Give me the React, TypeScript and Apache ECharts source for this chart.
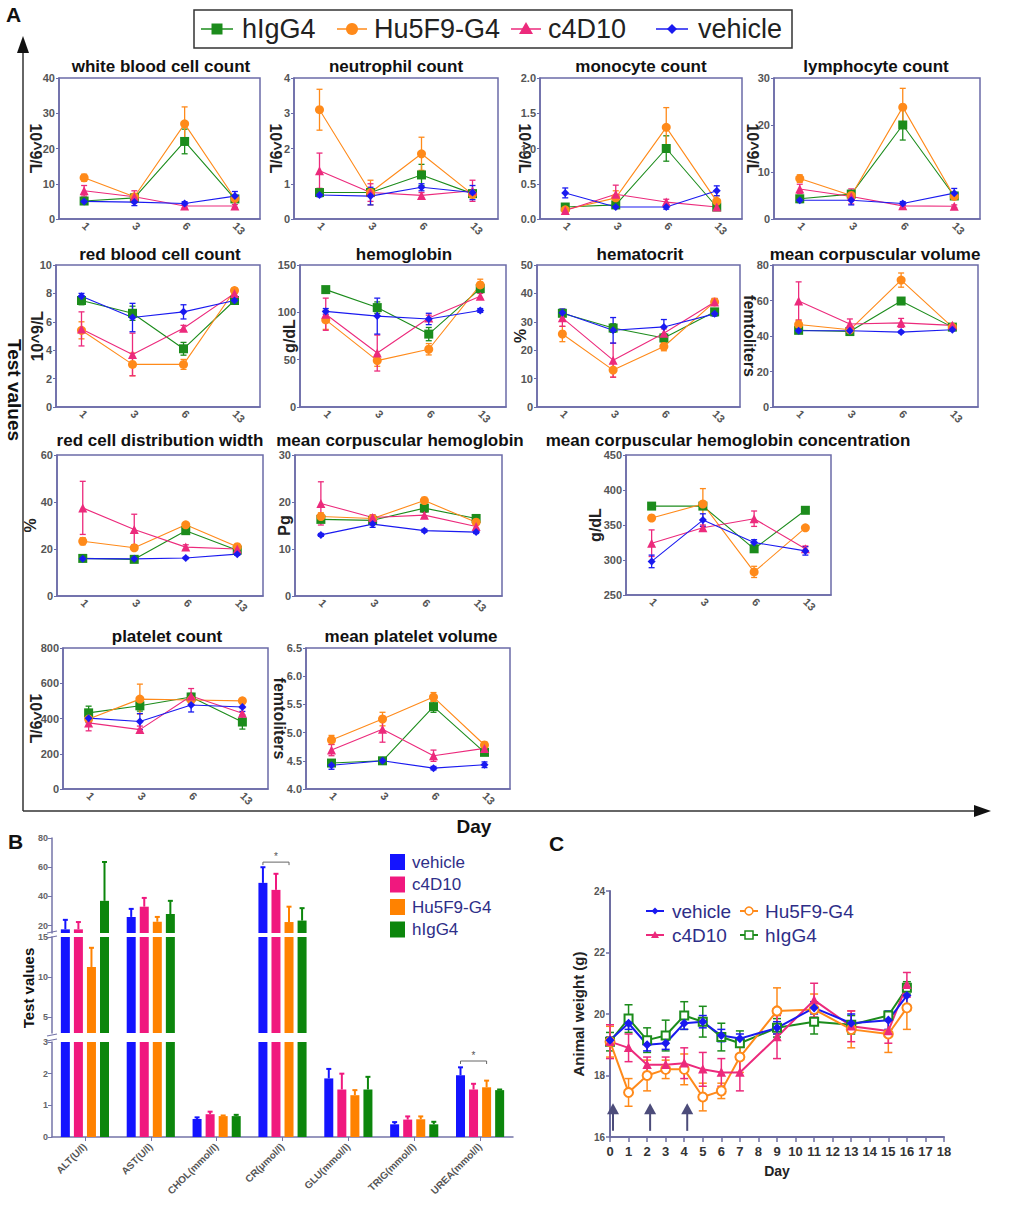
import React, { useEffect, useRef } from 'react';
import * as echarts from 'echarts';

const FONT = '"Liberation Sans", Arial, Helvetica, sans-serif';

// ---------------- Panel A data (order: hIgG4, Hu5F9-G4, c4D10, vehicle) ----------------
const days = ['1', '3', '6', '13'];
const groupNames = ['hIgG4', 'Hu5F9-G4', 'c4D10', 'vehicle'];

const wbcMean = [[5.1, 6.0, 22.0, 5.7], [11.7, 6.3, 27.0, 5.8], [8.0, 6.3, 3.7, 3.7], [5.0, 4.8, 4.4, 6.5]];
const wbcErr = [[0.5, 0.5, 3.5, 0.8], [1.0, 0.8, 4.8, 0.6], [1.5, 1.7, 0.6, 0.4], [0.6, 1.0, 0.5, 1.3]];
const neuMean = [[0.75, 0.75, 1.25, 0.72], [3.1, 0.75, 1.85, 0.7], [1.37, 0.75, 0.67, 0.8], [0.68, 0.65, 0.9, 0.75]];
const neuErr = [[0.08, 0.1, 0.3, 0.1], [0.58, 0.35, 0.47, 0.1], [0.5, 0.25, 0.08, 0.3], [0.05, 0.25, 0.1, 0.2]];
const monoMean = [[0.17, 0.2, 1.0, 0.17], [0.13, 0.3, 1.3, 0.25], [0.12, 0.35, 0.24, 0.17], [0.37, 0.17, 0.17, 0.4]];
const monoErr = [[0.03, 0.03, 0.18, 0.03], [0.03, 0.1, 0.28, 0.08], [0.03, 0.13, 0.04, 0.03], [0.07, 0.02, 0.03, 0.07]];
const lymMean = [[4.3, 5.3, 20.0, 4.9], [8.6, 5.0, 23.8, 4.8], [6.4, 4.8, 2.8, 2.7], [4.0, 4.0, 3.3, 5.5]];
const lymErr = [[0.5, 0.6, 3.2, 0.6], [0.8, 0.8, 4.0, 0.6], [1.0, 1.6, 0.4, 0.3], [0.5, 1.0, 0.4, 1.0]];
const rbcMean = [[7.5, 6.6, 4.1, 7.5], [5.4, 3.0, 3.0, 8.2], [5.5, 3.7, 5.55, 8.0], [7.8, 6.3, 6.7, 7.5]];
const rbcErr = [[0.3, 0.5, 0.45, 0.2], [0.6, 0.8, 0.35, 0.2], [1.2, 1.5, 0.2, 0.3], [0.2, 1.0, 0.5, 0.1]];
const hgbMean = [[124, 105, 77, 125], [92, 49, 61, 129], [98, 57, 94, 117], [101, 96, 93, 102]];
const hgbErr = [[3, 6, 7, 4], [10, 6, 6, 6], [17, 19, 3, 3], [3, 19, 6, 2]];
const hctMean = [[33, 27.8, 24.3, 33.5], [25.7, 13, 21.3, 37], [31.4, 16.5, 26, 37], [33.2, 27, 28.2, 32.8]];
const hctErr = [[1, 1.5, 1.5, 1], [2.7, 2.5, 1.5, 1.2], [3, 6, 1.5, 1.2], [1.3, 4.5, 2.6, 0.8]];
const mcvMean = [[43.2, 42.5, 59.7, 45], [46.5, 43.5, 71.5, 45], [59.7, 46.8, 47.4, 46], [43, 43, 42.2, 43.5]];
const mcvErr = [[0.8, 0.8, 1.2, 0.8], [2.5, 1, 4, 1], [10.8, 2.8, 2.5, 1], [0.5, 0.5, 0.5, 0.5]];
const rdwMean = [[16, 15.6, 27.8, 19.5], [23.3, 20.5, 30.3, 21], [37.5, 28.3, 20.8, 20], [15.9, 15.8, 16.2, 17.8]];
const rdwErr = [[0.5, 0.5, 1, 0.5], [1.5, 1, 1, 0.8], [11.3, 6.5, 1, 0.8], [0.3, 0.3, 0.3, 0.5]];
const mchMean = [[16.3, 16.1, 18.7, 16.5], [16.9, 16.5, 20.3, 15.7], [19.7, 16.7, 17.2, 14.8], [13, 15.3, 13.9, 13.6]];
const mchErr = [[0.4, 0.4, 0.6, 0.4], [0.8, 0.5, 0.7, 0.5], [4.6, 0.6, 0.6, 0.4], [0.3, 0.7, 0.3, 0.3]];
const mchcMean = [[377, 377, 316, 371], [360, 380, 283, 346], [324, 346, 359, 316], [298, 357, 325, 313]];
const mchcErr = [[3, 3, 3, 3], [3, 22, 8, 3], [19, 4, 11, 4], [9, 9, 4, 6]];
const pltMean = [[432, 472, 522, 380], [397, 510, 505, 500], [375, 337, 528, 430], [402, 383, 477, 465]];
const pltErr = [[38, 30, 20, 40], [20, 85, 25, 15], [45, 20, 42, 30], [25, 45, 40, 25]];
const mpvMean = [[4.46, 4.5, 5.46, 4.65], [4.87, 5.24, 5.63, 4.78], [4.69, 5.06, 4.59, 4.72], [4.42, 4.5, 4.37, 4.43]];
const mpvErr = [[0.03, 0.03, 0.1, 0.03], [0.08, 0.12, 0.08, 0.05], [0.1, 0.23, 0.1, 0.05], [0.07, 0.03, 0.03, 0.05]];

// ---------------- Panel B data (order: vehicle, c4D10, Hu5F9-G4, hIgG4) ----------------
const bCategories = ['ALT(U/l)', 'AST(U/l)', 'CHOL(mmol/l)', 'CR(μmol/l)', 'GLU(mmol/l)', 'TRIG(mmol/l)', 'UREA(mmol/l)'];
const bGroups = ['vehicle', 'c4D10', 'Hu5F9-G4', 'hIgG4'];
const bVehicle = [17.5, 26, 0.57, 49.3, 1.85, 0.4, 1.95];
const bVehicleErr = [6.5, 5.5, 0.05, 10.7, 0.3, 0.07, 0.25];
const bC4D10 = [17.5, 33, 0.72, 44.5, 1.5, 0.55, 1.5];
const bC4D10Err = [5, 6, 0.08, 11, 0.5, 0.1, 0.18];
const bHu5F9 = [11.25, 22.7, 0.66, 22.5, 1.32, 0.56, 1.57];
const bHu5F9Err = [2.4, 3.3, 0.02, 10.5, 0.16, 0.09, 0.21];
const bHIgG4 = [37, 28, 0.66, 23.5, 1.5, 0.4, 1.48];
const bHIgG4Err = [26.6, 9, 0.04, 8.5, 0.4, 0.08, 0.02];
const bUpperTicks = [20, 40, 60, 80];
const bMiddleTicks = [5, 10, 15];
const bLowerTicks = [0, 1, 2, 3];
// significance: [category index, bracket height]
const bSignif = [[3, 63.5], [6, 2.4]];

// ---------------- Panel C data (order: vehicle, c4D10, Hu5F9-G4, hIgG4) ----------------
const weightDays = [0, 1, 2, 3, 4, 5, 6, 7, 9, 11, 13, 15, 16];
const wVehicle = [19.15, 19.7, 19.0, 19.05, 19.7, 19.75, 19.3, 19.2, 19.55, 20.2, 19.7, 19.8, 20.6];
const wVehicleErr = [0.1, 0.2, 0.2, 0.2, 0.2, 0.2, 0.2, 0.15, 0.2, 0.2, 0.3, 0.3, 0.3];
const wC4D10 = [19.1, 18.9, 18.35, 18.35, 18.4, 18.2, 18.1, 18.1, 19.25, 20.45, 19.6, 19.45, 20.95];
const wC4D10Err = [0.55, 0.45, 0.25, 0.25, 0.5, 0.55, 0.45, 0.6, 0.7, 0.55, 0.5, 0.4, 0.4];
const wHu5F9 = [19.1, 17.45, 18.0, 18.2, 18.2, 17.3, 17.5, 18.6, 20.1, 20.15, 19.5, 19.35, 20.2];
const wHu5F9Err = [0.5, 0.45, 0.5, 0.3, 0.5, 0.45, 0.25, 0.5, 0.75, 0.5, 0.6, 0.6, 0.7];
const wHIgG4 = [19.1, 19.85, 19.15, 19.3, 19.95, 19.75, 19.25, 19.05, 19.55, 19.75, 19.65, 19.95, 20.85];
const wHIgG4Err = [0.3, 0.45, 0.4, 0.5, 0.45, 0.5, 0.45, 0.4, 0.3, 0.4, 0.3, 0.1, 0.2];
const dosingDays = [0, 2, 4];

// ---------------- styling ----------------
const GREEN = '#1c8c1c';
const ORANGE = '#ff8a1a';
const PINK = '#ec2a7c';
const BLUE = '#1a1af0';
const aColors = [GREEN, ORANGE, PINK, BLUE];
const aSymbols = ['rect', 'circle', 'triangle', 'diamond'];
const aSymbolSizes = [9, 9, 9, 8];
const AX = '#6b6ba8';
const NAVY = '#2e2e88';

const panelsA = [
  { title: 'white blood cell count', unit: '10^9/L', min: 0, max: 40, interval: 10, dec: 0, mean: wbcMean, err: wbcErr },
  { title: 'neutrophil count', unit: '10^9/L', min: 0, max: 4, interval: 1, dec: 0, mean: neuMean, err: neuErr },
  { title: 'monocyte count', unit: '10^9/L', min: 0, max: 2, interval: 0.5, dec: 1, mean: monoMean, err: monoErr },
  { title: 'lymphocyte count', unit: '10^9/L', min: 0, max: 30, interval: 10, dec: 0, mean: lymMean, err: lymErr },
  { title: 'red blood cell count', unit: '10^9/L', min: 0, max: 10, interval: 2, dec: 0, mean: rbcMean, err: rbcErr },
  { title: 'hemoglobin', unit: 'g/dL', min: 0, max: 150, interval: 50, dec: 0, mean: hgbMean, err: hgbErr },
  { title: 'hematocrit', unit: '%', min: 0, max: 50, interval: 10, dec: 0, mean: hctMean, err: hctErr },
  { title: 'mean corpuscular volume', unit: 'femtoliters', min: 0, max: 80, interval: 20, dec: 0, mean: mcvMean, err: mcvErr },
  { title: 'red cell distribution width', unit: '%', min: 0, max: 60, interval: 20, dec: 0, mean: rdwMean, err: rdwErr },
  { title: 'mean corpuscular hemoglobin', unit: 'Pg', min: 0, max: 30, interval: 10, dec: 0, mean: mchMean, err: mchErr },
  { title: 'mean corpuscular hemoglobin concentration', unit: 'g/dL', min: 250, max: 450, interval: 50, dec: 0, mean: mchcMean, err: mchcErr },
  { title: 'platelet count', unit: '10^9/L', min: 0, max: 800, interval: 200, dec: 0, mean: pltMean, err: pltErr },
  { title: 'mean platelet volume', unit: 'femtoliters', min: 4.0, max: 6.5, interval: 0.5, dec: 1, mean: mpvMean, err: mpvErr },
];

const layoutA = [
  { left: 59, top: 78, width: 201, height: 141, tx: 161, ty: 66, gap: 16, rot: -90 },
  { left: 294, top: 78, width: 204, height: 141, tx: 396, ty: 66, gap: 11, rot: -90 },
  { left: 540, top: 78, width: 202, height: 141, tx: 641, ty: 66, gap: 8, rot: -90 },
  { left: 774, top: 78, width: 206, height: 141, tx: 876, ty: 66, gap: 14, rot: -90 },
  { left: 56, top: 265, width: 204, height: 142, tx: 160, ty: 254, gap: 11, rot: 90 },
  { left: 300, top: 265, width: 206, height: 142, tx: 404, ty: 254, gap: 3, rot: 90 },
  { left: 537, top: 265, width: 203, height: 142, tx: 640, ty: 254, gap: 9, rot: 90 },
  { left: 773, top: 265, width: 205, height: 142, tx: 875, ty: 254, gap: 16, rot: -90 },
  { left: 57, top: 455, width: 206, height: 141, tx: 160, ty: 440, gap: 19, rot: 90 },
  { left: 295, top: 455, width: 207, height: 141, tx: 400, ty: 440, gap: 3, rot: 90 },
  { left: 626, top: 455, width: 205, height: 140, tx: 728, ty: 440, gap: 23, rot: 90 },
  { left: 63, top: 648, width: 205, height: 141, tx: 167, ty: 636, gap: 20, rot: -90 },
  { left: 306, top: 648, width: 204, height: 141, tx: 411, ty: 636, gap: 19, rot: -90 },
];

function errRender(color: string, capHalf: number, lw: number) {
  return (params: any, api: any) => {
    const x = api.value(0);
    const m = api.value(1);
    const e = api.value(2);
    const p1 = api.coord([x, m + e]);
    const p2 = api.coord([x, m - e]);
    const st = { stroke: color, lineWidth: lw, fill: null };
    return {
      type: 'group',
      children: [
        { type: 'line', shape: { x1: p1[0], y1: p1[1], x2: p2[0], y2: p2[1] }, style: st },
        { type: 'line', shape: { x1: p1[0] - capHalf, y1: p1[1], x2: p1[0] + capHalf, y2: p1[1] }, style: st },
        { type: 'line', shape: { x1: p2[0] - capHalf, y1: p2[1], x2: p2[0] + capHalf, y2: p2[1] }, style: st },
      ],
    };
  };
}

const BAR_W = 9;
const BAR_GAP = 0.45;
function barOffset(s: number) {
  return (s - 1.5) * BAR_W * (1 + BAR_GAP);
}

function barErrRender(color: string, s: number) {
  return (params: any, api: any) => {
    const cat = api.value(0);
    const m = api.value(1);
    const e = api.value(2);
    const cs = params.coordSys;
    const p1 = api.coord([cat, m]);
    const p2 = api.coord([cat, m + e]);
    const x = p1[0] + barOffset(s);
    const yTop = cs.y;
    const yBot = cs.y + cs.height;
    const y1 = Math.min(Math.max(p1[1], yTop), yBot);
    const y2 = Math.min(Math.max(p2[1], yTop), yBot);
    const st = { stroke: color, lineWidth: 2, fill: null };
    const children: any[] = [];
    if (Math.abs(y1 - y2) > 0.1) children.push({ type: 'line', shape: { x1: x, y1, x2: x, y2 }, style: st });
    if (p2[1] >= yTop && p2[1] <= yBot) {
      children.push({ type: 'line', shape: { x1: x - 2.5, y1: p2[1], x2: x + 2.5, y2: p2[1] }, style: st });
    }
    return { type: 'group', children };
  };
}

function buildOption() {
  const grid: any[] = [];
  const xAxis: any[] = [];
  const yAxis: any[] = [];
  const series: any[] = [];
  const graphic: any[] = [];

  const labelStyle = { color: '#555', fontWeight: 'bold', fontFamily: FONT };

  // ---------- Panel A ----------
  panelsA.forEach((p, i) => {
    const L = layoutA[i];
    const gi = grid.length;
    grid.push({ left: L.left, top: L.top, width: L.width, height: L.height, show: true, borderColor: AX, borderWidth: 1.5, backgroundColor: 'rgba(0,0,0,0)' });
    xAxis.push({
      type: 'category', gridIndex: gi, data: days, boundaryGap: true,
      axisLine: { onZero: false, lineStyle: { color: AX, width: 1.5 } },
      axisTick: { alignWithLabel: true, length: 3, lineStyle: { color: AX } },
      axisLabel: { ...labelStyle, rotate: -45, fontSize: 11, margin: 5, interval: 0 },
      splitLine: { show: false },
    });
    yAxis.push({
      type: 'value', gridIndex: gi, min: p.min, max: p.max, interval: p.interval,
      axisLine: { show: true, lineStyle: { color: AX, width: 1.5 } },
      axisTick: { show: true, length: 3, lineStyle: { color: AX } },
      axisLabel: { ...labelStyle, fontSize: 11, margin: 4, formatter: (v: number) => v.toFixed(p.dec) },
      splitLine: { show: false },
      name: p.unit, nameLocation: 'middle', nameGap: L.gap, nameRotate: L.rot, nameMoveOverlap: false,
      nameTextStyle: { fontSize: 16, fontWeight: 'bold', color: '#222', fontFamily: FONT },
    });
    graphic.push({
      type: 'text', x: L.tx, y: L.ty,
      style: { text: p.title, fontSize: 17, fontWeight: 'bold', fontFamily: FONT, fill: '#111', align: 'center', verticalAlign: 'middle', textAlign: 'center', textVerticalAlign: 'middle' },
    });
    for (let s = 0; s < 4; s++) {
      series.push({
        type: 'custom', name: groupNames[s], xAxisIndex: gi, yAxisIndex: gi, z: 1,
        renderItem: errRender(aColors[s], 3, 1.3),
        data: p.mean[s].map((m, k) => [k, m, p.err[s][k]]),
        silent: true,
      });
    }
    for (let s = 0; s < 4; s++) {
      series.push({
        type: 'line', name: groupNames[s], xAxisIndex: gi, yAxisIndex: gi, z: 3,
        data: p.mean[s], symbol: aSymbols[s], symbolSize: aSymbolSizes[s],
        lineStyle: { color: aColors[s], width: 1.1 }, itemStyle: { color: aColors[s] },
      });
    }
  });

  // A frame arrows and labels
  graphic.push(
    { type: 'line', shape: { x1: 23, y1: 811, x2: 23, y2: 48 }, style: { stroke: '#333', lineWidth: 1.5 } },
    { type: 'polygon', shape: { points: [[23, 36], [17, 53], [29, 53]] }, style: { fill: '#111' } },
    { type: 'line', shape: { x1: 23, y1: 811, x2: 976, y2: 811 }, style: { stroke: '#333', lineWidth: 1.5 } },
    { type: 'polygon', shape: { points: [[991, 811], [974, 805], [974, 817]] }, style: { fill: '#111' } },
    { type: 'text', x: 6, y: 4, style: { text: 'A', fontSize: 21, fontWeight: 'bold', fontFamily: FONT, fill: '#111' } },
    { type: 'text', x: 474, y: 826, style: { text: 'Day', fontSize: 19, fontWeight: 'bold', fontFamily: FONT, fill: '#111', align: 'center', verticalAlign: 'middle', textAlign: 'center', textVerticalAlign: 'middle' } },
    { type: 'text', x: 14, y: 390, rotation: -Math.PI / 2, style: { text: 'Test values', fontSize: 19, fontWeight: 'bold', fontFamily: FONT, fill: '#111', align: 'center', verticalAlign: 'middle', textAlign: 'center', textVerticalAlign: 'middle' } },
  );

  // A legend
  graphic.push({ type: 'rect', shape: { x: 194, y: 10, width: 598, height: 38 }, style: { fill: '#fff', stroke: '#333', lineWidth: 1.5 } });
  const legA = [
    { x1: 201, x2: 233, mx: 217, tx: 242 },
    { x1: 337, x2: 367, mx: 352, tx: 374 },
    { x1: 511, x2: 541, mx: 526, tx: 548 },
    { x1: 656, x2: 688, mx: 672, tx: 698 },
  ];
  const LY = 29;
  legA.forEach((l, s) => {
    graphic.push({ type: 'line', shape: { x1: l.x1, y1: LY, x2: l.x2, y2: LY }, style: { stroke: aColors[s], lineWidth: 1.5 } });
    if (s === 0) graphic.push({ type: 'rect', shape: { x: l.mx - 5.5, y: LY - 5.5, width: 11, height: 11 }, style: { fill: aColors[s] } });
    if (s === 1) graphic.push({ type: 'circle', shape: { cx: l.mx, cy: LY, r: 6 }, style: { fill: aColors[s] } });
    if (s === 2) graphic.push({ type: 'polygon', shape: { points: [[l.mx, LY - 7], [l.mx - 7, LY + 5], [l.mx + 7, LY + 5]] }, style: { fill: aColors[s] } });
    if (s === 3) graphic.push({ type: 'polygon', shape: { points: [[l.mx, LY - 5], [l.mx + 5, LY], [l.mx, LY + 5], [l.mx - 5, LY]] }, style: { fill: aColors[s] } });
    graphic.push({ type: 'text', x: l.tx, y: LY, style: { text: groupNames[s], fontSize: 27, fontFamily: FONT, fill: '#222', verticalAlign: 'middle', textVerticalAlign: 'middle' } });
  });

  // ---------- Panel B ----------
  const bColors = ['#1414ff', '#f0187e', '#ff8200', '#0c860c'];
  const bMeans = [bVehicle, bC4D10, bHu5F9, bHIgG4];
  const bErrs = [bVehicleErr, bC4D10Err, bHu5F9Err, bHIgG4Err];
  const segs = [
    { top: 838, height: 95, min: 15, max: 80, ticks: bUpperTicks, bottom: false },
    { top: 937, height: 96, min: 3, max: 15, ticks: bMiddleTicks, bottom: false },
    { top: 1042, height: 95, min: 0, max: 3, ticks: bLowerTicks, bottom: true },
  ];
  const BAX = '#7474a8';
  segs.forEach((sg) => {
    const gi = grid.length;
    grid.push({ left: 52, top: sg.top, width: 461, height: sg.height, show: false });
    xAxis.push({
      type: 'category', gridIndex: gi, data: bCategories, boundaryGap: true, show: sg.bottom,
      axisLine: { show: sg.bottom, onZero: false, lineStyle: { color: BAX, width: 1.5 } },
      axisTick: { show: sg.bottom, alignWithLabel: true, length: 4, lineStyle: { color: BAX } },
      axisLabel: { show: sg.bottom, ...labelStyle, rotate: 45, fontSize: 10, margin: 8, interval: 0 },
      splitLine: { show: false },
    });
    yAxis.push({
      type: 'value', gridIndex: gi, min: sg.min, max: sg.max,
      axisLine: { show: true, lineStyle: { color: BAX, width: 1.5 } },
      axisTick: { show: true, length: 4, lineStyle: { color: BAX }, customValues: sg.ticks },
      axisLabel: { ...labelStyle, color: '#666', fontSize: 9, margin: 4, customValues: sg.ticks },
      splitLine: { show: false },
    });
    for (let s = 0; s < 4; s++) {
      series.push({
        type: 'bar', name: bGroups[s], xAxisIndex: gi, yAxisIndex: gi, data: bMeans[s],
        barWidth: BAR_W, barGap: `${BAR_GAP * 100}%`, itemStyle: { color: bColors[s] }, clip: true, z: 2,
      });
    }
    for (let s = 0; s < 4; s++) {
      series.push({
        type: 'custom', name: bGroups[s] + ' err', xAxisIndex: gi, yAxisIndex: gi, z: 1, silent: true,
        renderItem: barErrRender(bColors[s], s),
        data: bMeans[s].map((m, c) => [c, m, bErrs[s][c]]),
      });
    }
    const sig = bSignif.filter((d) => d[1] >= sg.min && d[1] <= sg.max);
    if (sig.length) {
      series.push({
        type: 'custom', xAxisIndex: gi, yAxisIndex: gi, z: 4, silent: true,
        data: sig,
        renderItem: (params: any, api: any) => {
          const p = api.coord([api.value(0), api.value(1)]);
          const xa = p[0] + barOffset(0);
          const xb = p[0] + barOffset(2);
          const st = { stroke: '#666', lineWidth: 1, fill: null };
          return {
            type: 'group', children: [
              { type: 'polyline', shape: { points: [[xa, p[1] + 3], [xa, p[1]], [xb, p[1]], [xb, p[1] + 3]] }, style: st },
              { type: 'text', x: (xa + xb) / 2, y: p[1] - 1, style: { text: '*', fontSize: 10, fill: '#555', align: 'center', verticalAlign: 'bottom', textAlign: 'center', textVerticalAlign: 'bottom' } },
            ],
          };
        },
      });
    }
  });
  graphic.push(
    { type: 'line', shape: { x1: 47, y1: 933, x2: 57, y2: 931 }, style: { stroke: BAX, lineWidth: 1.2 } },
    { type: 'line', shape: { x1: 47, y1: 938, x2: 57, y2: 936 }, style: { stroke: BAX, lineWidth: 1.2 } },
    { type: 'line', shape: { x1: 47, y1: 1036, x2: 57, y2: 1034 }, style: { stroke: BAX, lineWidth: 1.2 } },
    { type: 'line', shape: { x1: 47, y1: 1041, x2: 57, y2: 1039 }, style: { stroke: BAX, lineWidth: 1.2 } },
  );
  graphic.push(
    { type: 'text', x: 8, y: 831, style: { text: 'B', fontSize: 21, fontWeight: 'bold', fontFamily: FONT, fill: '#111' } },
    { type: 'text', x: 28, y: 988, rotation: Math.PI / 2, style: { text: 'Test values', fontSize: 15, fontWeight: 'bold', fontFamily: FONT, fill: '#111', align: 'center', verticalAlign: 'middle', textAlign: 'center', textVerticalAlign: 'middle' } },
  );
  bGroups.forEach((g, s) => {
    const cy = 862 + s * 22.5;
    graphic.push({ type: 'rect', shape: { x: 390, y: cy - 8, width: 15, height: 16 }, style: { fill: bColors[s] } });
    graphic.push({ type: 'text', x: 412, y: cy, style: { text: g, fontSize: 17, fontFamily: FONT, fill: NAVY, verticalAlign: 'middle', textVerticalAlign: 'middle' } });
  });

  // ---------- Panel C ----------
  const gC = grid.length;
  const CAX = '#6e6ea2';
  grid.push({ left: 610, top: 891, width: 334, height: 246, show: false });
  xAxis.push({
    type: 'value', gridIndex: gC, min: 0, max: 18, interval: 1,
    axisLine: { onZero: false, lineStyle: { color: CAX, width: 2 } },
    axisTick: { length: 5, lineStyle: { color: CAX, width: 1.5 } },
    axisLabel: { color: '#333', fontWeight: 'bold', fontFamily: FONT, fontSize: 13, margin: 8 },
    splitLine: { show: false },
    name: 'Day', nameLocation: 'middle', nameGap: 27,
    nameTextStyle: { fontSize: 14, fontWeight: 'bold', color: '#222', fontFamily: FONT },
  });
  yAxis.push({
    type: 'value', gridIndex: gC, min: 16, max: 24, interval: 2,
    axisLine: { show: true, onZero: false, lineStyle: { color: CAX, width: 2 } },
    axisTick: { show: true, length: 4, lineStyle: { color: CAX, width: 1.5 } },
    axisLabel: { ...labelStyle, fontSize: 10, margin: 5 },
    splitLine: { show: false },
    name: 'Animal weight (g)', nameLocation: 'middle', nameGap: 24,
    nameTextStyle: { fontSize: 15, fontWeight: 'bold', color: '#222', fontFamily: FONT },
  });
  const cNames = ['hIgG4', 'Hu5F9-G4', 'c4D10', 'vehicle'];
  const cMeans = [wHIgG4, wHu5F9, wC4D10, wVehicle];
  const cErrs = [wHIgG4Err, wHu5F9Err, wC4D10Err, wVehicleErr];
  const cColors = [GREEN, ORANGE, PINK, BLUE];
  const cSymbols = ['emptyRect', 'emptyCircle', 'triangle', 'diamond'];
  const cSizes = [8, 9, 7, 7];
  for (let s = 0; s < 4; s++) {
    series.push({
      type: 'custom', xAxisIndex: gC, yAxisIndex: gC, z: 1, silent: true,
      renderItem: errRender(cColors[s], 4, 1.5),
      data: weightDays.map((d, k) => [d, cMeans[s][k], cErrs[s][k]]),
    });
  }
  for (let s = 0; s < 4; s++) {
    series.push({
      type: 'line', name: cNames[s], xAxisIndex: gC, yAxisIndex: gC, z: 3,
      data: weightDays.map((d, k) => [d, cMeans[s][k]]),
      symbol: cSymbols[s], symbolSize: cSizes[s],
      lineStyle: { color: cColors[s], width: 2 },
      itemStyle: { color: cColors[s], borderColor: cColors[s], borderWidth: 1.5 },
    });
  }
  series.push({
    type: 'custom', xAxisIndex: gC, yAxisIndex: gC, z: 5, silent: true,
    data: dosingDays.map((d) => [d]),
    renderItem: (params: any, api: any) => {
      const d = api.value(0);
      const b = api.coord([d, 16.2]);
      const t = api.coord([d, 17.1]);
      const x = b[0] + 3;
      const col = '#4c4c7a';
      return {
        type: 'group', children: [
          { type: 'line', shape: { x1: x, y1: b[1], x2: x, y2: t[1] + 8 }, style: { stroke: col, lineWidth: 2 } },
          { type: 'polygon', shape: { points: [[x, t[1]], [x - 6, t[1] + 11], [x + 6, t[1] + 11]] }, style: { fill: col } },
        ],
      };
    },
  });
  graphic.push({ type: 'text', x: 549, y: 833, style: { text: 'C', fontSize: 21, fontWeight: 'bold', fontFamily: FONT, fill: '#111' } });
  const legC = [
    { s: 3, x1: 646, x2: 664, ty: 911, tx: 672 },
    { s: 1, x1: 740, x2: 758, ty: 911, tx: 765 },
    { s: 2, x1: 646, x2: 664, ty: 935, tx: 672 },
    { s: 0, x1: 740, x2: 758, ty: 935, tx: 765 },
  ];
  legC.forEach((l) => {
    const c = cColors[l.s];
    const mx = (l.x1 + l.x2) / 2;
    const y = l.ty;
    graphic.push({ type: 'line', shape: { x1: l.x1, y1: y, x2: l.x2, y2: y }, style: { stroke: c, lineWidth: 2 } });
    if (l.s === 0) graphic.push({ type: 'rect', shape: { x: mx - 4, y: y - 4, width: 8, height: 8 }, style: { fill: '#fff', stroke: c, lineWidth: 1.5 } });
    if (l.s === 1) graphic.push({ type: 'circle', shape: { cx: mx, cy: y, r: 4 }, style: { fill: '#fff', stroke: c, lineWidth: 1.5 } });
    if (l.s === 2) graphic.push({ type: 'polygon', shape: { points: [[mx, y - 4], [mx - 4, y + 3], [mx + 4, y + 3]] }, style: { fill: c } });
    if (l.s === 3) graphic.push({ type: 'polygon', shape: { points: [[mx, y - 3.5], [mx + 3.5, y], [mx, y + 3.5], [mx - 3.5, y]] }, style: { fill: c } });
    graphic.push({ type: 'text', x: l.tx, y, style: { text: cNames[l.s], fontSize: 19, fontFamily: FONT, fill: NAVY, verticalAlign: 'middle', textVerticalAlign: 'middle' } });
  });

  return {
    animation: false,
    backgroundColor: '#ffffff',
    textStyle: { fontFamily: FONT },
    grid, xAxis, yAxis, series, graphic,
  };
}

export default function App() {
  const ref = useRef<HTMLDivElement>(null);
  useEffect(() => {
    document.body.style.margin = '0';
    if (!ref.current) return;
    const chart = echarts.init(ref.current, undefined, { renderer: 'svg' });
    chart.setOption(buildOption() as any);
    return () => chart.dispose();
  }, []);
  return <div ref={ref} style={{ width: 1028, height: 1219, background: '#fff' }} />;
}
